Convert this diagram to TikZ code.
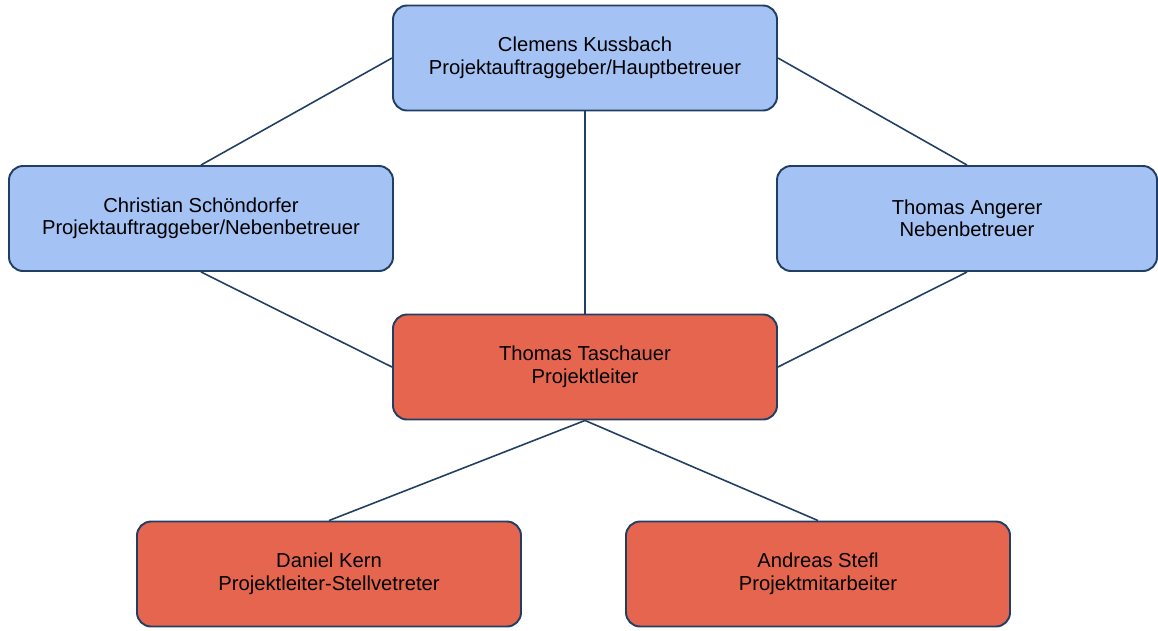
\documentclass[tikz,border=0pt]{standalone}
\usepackage{fontspec}
\setmainfont{Liberation Sans}
\usepackage{tikz}

\definecolor{boxblue}{HTML}{A4C2F4}
\definecolor{boxred}{HTML}{E6654F}
\definecolor{linecol}{HTML}{213F63}

\begin{document}
\begin{tikzpicture}[every node/.style={rectangle, rounded corners=8pt, draw=linecol, line width=1.1pt, minimum width=7.68cm, minimum height=2.1cm, align=center, font=\fontsize{11.5}{12.8}\selectfont}, every path/.style={draw=linecol, line width=0.9pt}, betreuer/.style={fill=boxblue}, team/.style={fill=boxred}]
			\useasboundingbox[draw=none] (0,0) rectangle (23.16,-12.6);
			\node[betreuer] (ck) at (11.7,-1.16){Clemens Kussbach\\Projektauftraggeber/Hauptbetreuer};
			\node[betreuer] (cs) at (4.02,-4.37){Christian Schöndorfer\\Projektauftraggeber/Nebenbetreuer};
			\node[betreuer, minimum width=7.6cm] (ta) at (19.34,-4.37){Thomas Angerer\\Nebenbetreuer};
			\node[team] (tt) at (11.7,-7.34){Thomas Taschauer\\Projektleiter};
			\node[team] (dk) at (6.58,-11.48){Daniel Kern\\Projektleiter-Stellvetreter};
			\node[team] (as) at (16.36,-11.48){Andreas Stefl\\Projektmitarbeiter};
			
			\path (ck.west) edge (cs.north);
			\path (ck.east) edge (ta.north);
			\path (ck.south) edge (tt.north);
			\path (cs.south) edge (tt.west);
			\path (ta.south) edge (tt.east);
			\path (tt.south) edge (dk.north);
			\path (tt.south) edge (as.north);
			\end{tikzpicture}
\end{document}
